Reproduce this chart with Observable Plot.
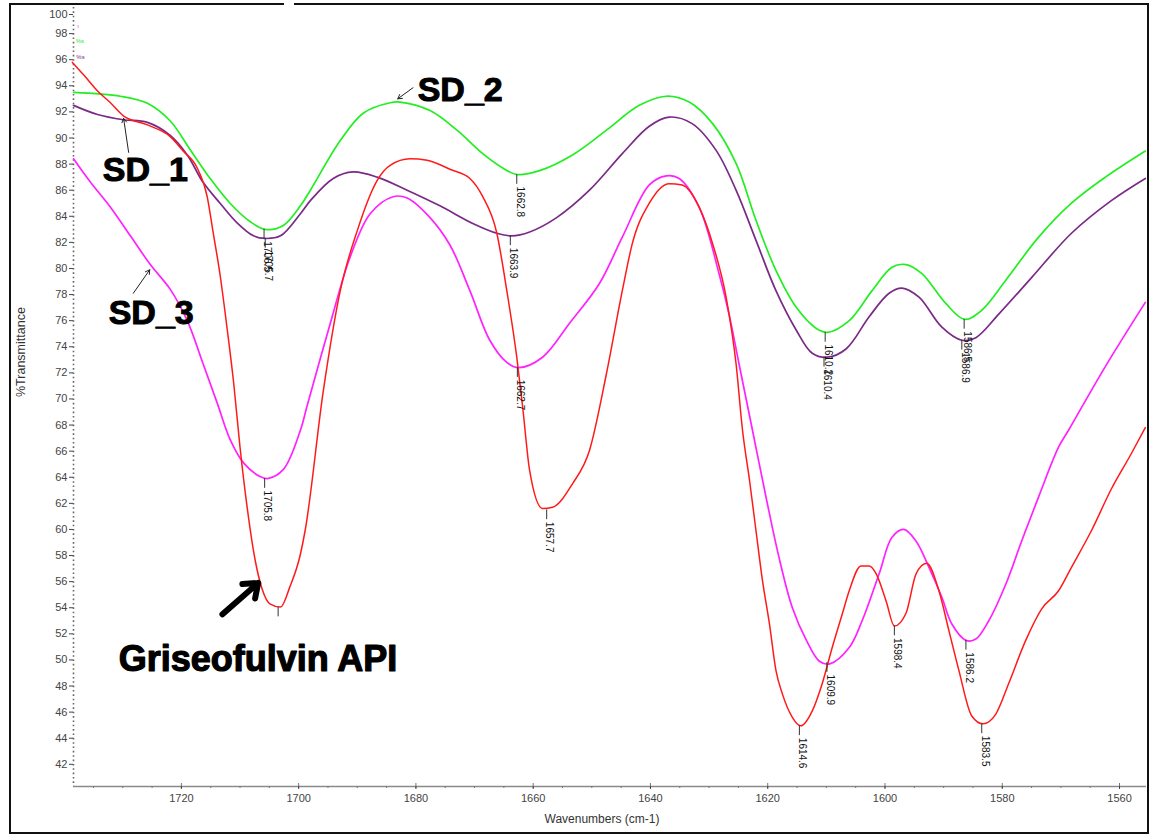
<!DOCTYPE html>
<html><head><meta charset="utf-8">
<script src="https://cdn.jsdelivr.net/npm/d3@7"></script>
<script src="https://cdn.jsdelivr.net/npm/@observablehq/plot@0.6"></script>
<style>
body{margin:0;background:#fff;}
#wrap{position:relative;width:1152px;height:836px;overflow:hidden;}
#border{position:absolute;left:9px;top:3px;width:1136px;height:827px;border:2px solid #111;pointer-events:none;}
#gap{position:absolute;left:284px;top:1px;width:10px;height:6px;background:#fff;}
</style></head><body>
<div id="wrap"><div id="chart"></div><div id="border"></div><div id="gap"></div></div>
<script>
// ---- data: [wavenumber (cm-1), % transmittance] ----
const sd2 = [[1738.4,93.5],[1730.4,93.2],[1725.8,92.66],[1721.9,91.3],[1718.5,89.1],[1715.1,86.9],[1711.7,85.0],[1708.3,83.6],[1705.7,83.0],[1702.6,83.3],[1699.7,84.8],[1698,86.0],[1692.9,89.8],[1689,91.9],[1684.4,92.7],[1682.7,92.75],[1677.6,92.1],[1673,90.6],[1668.6,88.8],[1665.2,87.7],[1662.8,87.2],[1658.9,87.5],[1653.3,88.7],[1647.5,90.6],[1641.9,92.5],[1637.3,93.2],[1633.4,92.75],[1629.4,91.1],[1625.4,88.05],[1622,83.7],[1618.6,79.85],[1615.1,77.0],[1611.7,75.4],[1609.8,75.1],[1606.1,76.0],[1602.2,78.3],[1598.8,80.1],[1596.4,80.3],[1593.7,79.6],[1589.6,77.3],[1586.4,76.1],[1583.5,76.8],[1579.4,79.1],[1573.8,82.4],[1568.2,85.0],[1562.4,87.0],[1555.6,89.0]];
const sd1 = [[1738.4,92.5],[1734.3,91.8],[1729.9,91.4],[1725.8,91.2],[1721.9,90.2],[1719,88.7],[1716.3,86.6],[1713.4,85.0],[1710.5,83.5],[1707.7,82.5],[1705.7,82.3],[1703.1,82.5],[1699.7,84.2],[1698,85.2],[1694.1,86.9],[1690.7,87.4],[1686.6,87.0],[1681.5,86.0],[1675.9,84.8],[1670.3,83.45],[1666.2,82.7],[1663.7,82.5],[1660.6,82.8],[1656,83.9],[1650.4,86.0],[1644.8,88.8],[1640.2,90.9],[1636.8,91.6],[1632.9,91.1],[1628.8,89.05],[1625.4,86.0],[1622,82.15],[1618.6,78.3],[1615.1,75.25],[1612.4,73.5],[1609.8,73.2],[1606.6,73.85],[1602.7,76.3],[1599.3,78.1],[1597.1,78.5],[1594.2,77.8],[1590.3,75.5],[1586.9,74.5],[1584.5,74.7],[1580.6,76.5],[1575,79.3],[1568.2,82.7],[1561.4,85.2],[1555.6,86.9]];
const sd3 = [[1738.4,88.4],[1735.5,86.6],[1732.1,84.7],[1728.7,82.5],[1725.3,80.3],[1721.9,78.4],[1719,76.0],[1716.3,72.7],[1713.9,69.7],[1711.7,66.9],[1709.4,65.1],[1706.6,64.05],[1705.3,63.9],[1702.6,64.6],[1699.7,67.6],[1698.6,69.4],[1694.6,75.8],[1691.2,80.9],[1687.8,84.2],[1683.9,85.5],[1681.5,85.4],[1677.6,83.9],[1674.2,81.8],[1670.8,78.3],[1667.4,74.5],[1664.5,72.8],[1662.5,72.4],[1658.4,73.2],[1653.8,75.8],[1648.7,78.85],[1644.8,82.4],[1640.2,86.4],[1637.3,87.1],[1635.1,86.9],[1631.7,84.7],[1628.3,79.6],[1626.6,76.5],[1624.9,72.7],[1622.6,67.6],[1620.3,62.5],[1618.1,57.9],[1615.8,54.0],[1613.4,51.5],[1611.2,49.9],[1609.4,49.7],[1606.1,50.95],[1603.9,53.0],[1601,56.6],[1598.8,59.4],[1596.8,60.0],[1594.7,59.1],[1592.5,57.1],[1590.3,54.8],[1588.6,52.75],[1586.2,51.5],[1584.5,51.6],[1582.3,53.0],[1579.4,55.8],[1576.7,59.1],[1573.8,62.5],[1570.4,66.3],[1568.7,67.6],[1562.4,72.5],[1555.6,77.4]];
const api = [[1738.6,95.8],[1736.6,94.8],[1734.3,93.6],[1732.1,92.7],[1729.9,91.7],[1725.8,91.0],[1721.9,90.1],[1719.7,89.0],[1717.3,87.7],[1715.6,85.5],[1714.6,82.8],[1713.4,79.5],[1712.2,75.4],[1711.1,71.3],[1710,66.3],[1708.8,61.75],[1707.4,57.6],[1706.2,55.4],[1704.9,54.3],[1703.1,54.05],[1701.5,55.6],[1699.7,58.1],[1698.9,59.9],[1695.8,70.6],[1692.9,78.3],[1690,82.9],[1686.6,86.75],[1684.4,87.9],[1681,88.4],[1678.1,88.3],[1674.2,87.6],[1670.8,86.9],[1668.6,85.5],[1666.2,82.7],[1664.5,78.3],[1662.8,73.2],[1661.8,69.4],[1660.6,64.5],[1658.4,61.6],[1656.7,61.7],[1653.3,63.5],[1650.4,66.05],[1647.5,71.95],[1644.8,78.3],[1643.1,81.9],[1640.2,85.0],[1636.8,86.5],[1634.6,86.4],[1631.7,84.7],[1629.4,81.9],[1627.1,77.8],[1625.4,72.7],[1624.3,67.6],[1623.1,63.75],[1622,59.9],[1620.9,56.1],[1619.7,52.75],[1618.6,49.2],[1617.5,47.4],[1615.8,45.6],[1614.4,44.95],[1612.4,46.1],[1610.7,48.2],[1609,50.95],[1607.3,53.5],[1606.1,55.3],[1604.1,57.2],[1602.7,57.2],[1601.5,56.6],[1599.8,54.5],[1598.4,52.6],[1596.4,53.6],[1594.7,56.6],[1592.9,57.4],[1590.8,55.3],[1589.1,52.25],[1587.4,49.2],[1585.2,45.7],[1583.3,45.1],[1581.1,45.85],[1578.9,48.2],[1576,51.5],[1573.3,53.9],[1570.4,55.3],[1568.2,57.1],[1564.8,59.9],[1561.4,63.1],[1558,65.8],[1555.6,67.8]];

// peak markers: wavenumber, transmittance at the minimum, label
const peakWn   = [1705.9, 1705.7, 1662.8, 1663.9, 1705.8, 1662.7, 1657.7, 1703.5, 1610.2, 1610.4, 1586.5, 1586.9, 1609.9, 1598.4, 1586.2, 1614.6, 1583.5];
const peakT    = [83.0,   82.3,   87.2,   82.5,   63.9,   72.4,   61.5,   54.05,  75.1,   73.2,   76.1,   74.5,   49.8,   52.6,   51.5,   44.95,  45.1];
const peakText = ["1706.5","1705.7","1662.8","1663.9","1705.8","1662.7","1657.7","","1610.2","1610.4","1586.5","1586.9","1609.9","1598.4","1586.2","1614.6","1583.5"];

// series names & colours
const seriesNames  = ["SD_2", "SD_1", "SD_3", "Griseofulvin API"];
const seriesColors = ["#22ee22", "#7a2a86", "#ff22ff", "#ff1a1a"];

// axis ticks
const xMajor = [1720, 1700, 1680, 1660, 1640, 1620, 1600, 1580, 1560];
const xMinor = d3.range(1735, 1555, -5);
const yTicks = d3.range(42, 99, 2);
const xDomain = [1738.4, 1555.4];
const yDomain = [40.3, 100];

// annotations (label text, position in data units)
const annText = ["SD_1", "SD_2", "SD_3"];
const annWn   = [1733.4, 1679.7, 1732.4];
const annT    = [87.55, 93.65, 76.55];
const apiLabel = {text: "Griseofulvin API", wn: 1730.7, t: 50.0};
const thinArrows = [
  {x1: 1729.0, y1: 88.9, x2: 1729.85, y2: 91.5},
  {x1: 1680.5, y1: 93.85, x2: 1683.1, y2: 93.0},
  {x1: 1728.2, y1: 78.1, x2: 1725.4, y2: 79.9}
];
const bigArrow = [{x1: 1713.0, y1: 53.5, x2: 1706.9, y2: 55.9}];
const specks = [
  {wn: 1737.6, t: 98.6, s: "ı", c: "#ff22ff"},
  {wn: 1737.3, t: 97.4, s: "%s", c: "#22ee22"},
  {wn: 1737.2, t: 96.2, s: "%s", c: "#7a2a86"}
];

const toRows = (pts, name) => pts.map(([wn, t]) => ({wn, t, name}));
const peaks = peakWn.map((wn, i) => ({wn, t: peakT[i], label: peakText[i]}));
const font = "Liberation Sans, Arial, sans-serif";

const chart = Plot.plot({
  width: 1152,
  height: 836,
  marginLeft: 73,
  marginRight: 6,
  marginTop: 7,
  marginBottom: 50,
  style: {fontFamily: font, background: "white", overflow: "visible"},
  x: {domain: xDomain, label: null},
  y: {domain: yDomain, label: null},
  marks: [
    // axes
    Plot.ruleY([yDomain[0]], {stroke: "#8a8a8a", strokeWidth: 1.6}),
    Plot.ruleX([xDomain[0]], {stroke: "#666", strokeWidth: 1.6, strokeDasharray: "1.6,2.75"}),
    Plot.axisX({ticks: xMinor, tickSize: 2, text: null, stroke: "#777"}),
    Plot.axisX({ticks: xMajor, tickSize: 3, tickPadding: 5, fontSize: 11, color: "#444", tickFormat: d => String(d)}),
    Plot.axisX({ticks: xMajor, tickSize: -3, text: null, stroke: "#777"}),
    Plot.axisY({ticks: yTicks, tickSize: 4, tickPadding: 2, fontSize: 11, color: "#444"}),
    Plot.axisY({ticks: [100], tickSize: 4, tickPadding: 2, fontSize: 11, color: "#444", dy: 7}),
    Plot.text(["Wavenumbers (cm-1)"], {frameAnchor: "bottom", dx: -8, dy: 36, fontSize: 12, fill: "#333"}),
    Plot.text(["%Transmittance"], {frameAnchor: "left", dx: -53, rotate: -90, fontSize: 12.5, fill: "#333"}),
    // spectra
    Plot.line(toRows(sd2, seriesNames[0]), {x: "wn", y: "t", stroke: seriesColors[0], strokeWidth: 1.7, curve: "catmull-rom"}),
    Plot.line(toRows(sd1, seriesNames[1]), {x: "wn", y: "t", stroke: seriesColors[1], strokeWidth: 1.7, curve: "catmull-rom"}),
    Plot.line(toRows(sd3, seriesNames[2]), {x: "wn", y: "t", stroke: seriesColors[2], strokeWidth: 1.7, curve: "catmull-rom"}),
    Plot.line(toRows(api, seriesNames[3]), {x: "wn", y: "t", stroke: seriesColors[3], strokeWidth: 1.5, curve: "monotone-x"}),
    // peak markers
    Plot.ruleX(peaks, {x: "wn", y1: "t", y2: d => d.t - 0.75, stroke: "#333", strokeWidth: 1}),
    Plot.text(peaks, {x: "wn", y: "t", text: "label", rotate: 90, textAnchor: "start", dx: 3, dy: 12, fontSize: 10, fill: "#111"}),
    // annotations
    Plot.text(annText, {x: (d, i) => annWn[i], y: (d, i) => annT[i], text: d => d, textAnchor: "start", fontSize: 34, fontWeight: "bold", fill: "#000", stroke: "#000", strokeWidth: 1}),
    Plot.text([apiLabel], {x: "wn", y: "t", text: "text", textAnchor: "start", fontSize: 36, fontWeight: "bold", fill: "#000", stroke: "#000", strokeWidth: 1.2}),
    Plot.arrow(thinArrows, {x1: "x1", y1: "y1", x2: "x2", y2: "y2", stroke: "#222", strokeWidth: 1, headLength: 7}),
    Plot.arrow(bigArrow, {x1: "x1", y1: "y1", x2: "x2", y2: "y2", stroke: "#000", strokeWidth: 6, headLength: 16, headAngle: 75}),
    Plot.text(specks, {x: "wn", y: "t", text: "s", fill: "c", fontSize: 6})
  ]
});
document.getElementById("chart").appendChild(chart);
</script>
</body></html>
